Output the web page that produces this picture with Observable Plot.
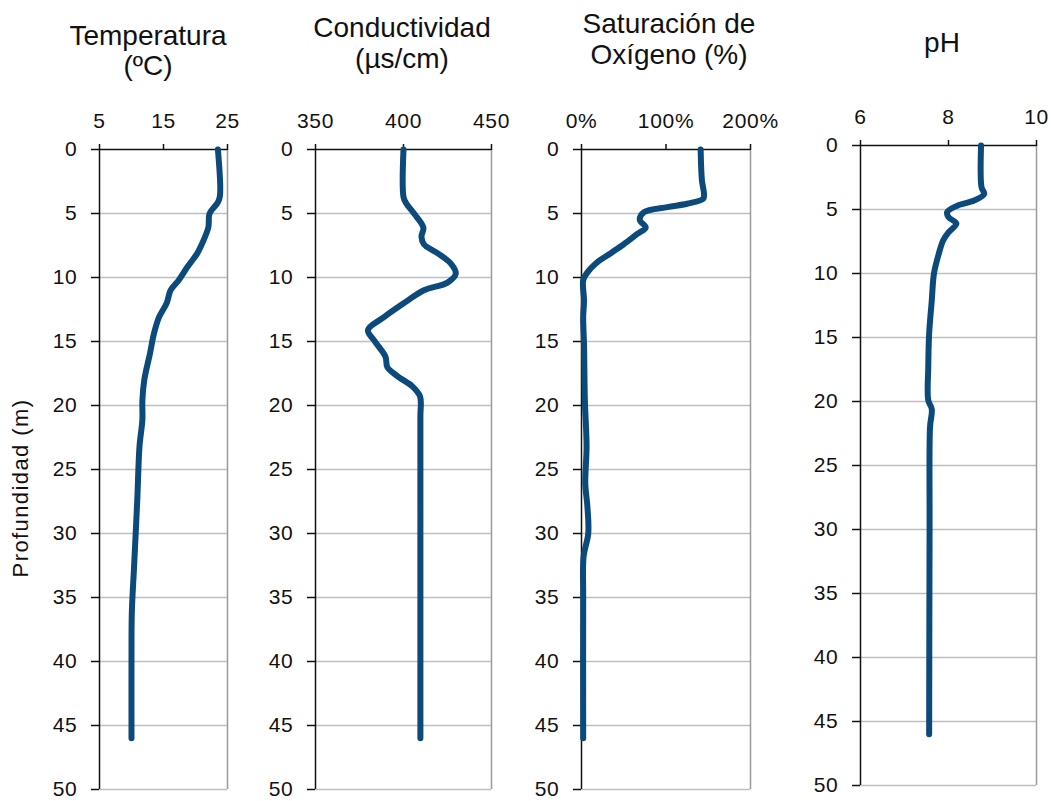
<!DOCTYPE html>
<html>
<head>
<meta charset="utf-8">
<script src="https://cdn.jsdelivr.net/npm/d3@7"></script>
<script src="https://cdn.jsdelivr.net/npm/@observablehq/plot@0.6"></script>
<style>
  html, body { margin: 0; padding: 0; background: #fff; }
  #chart { position: relative; width: 1051px; height: 801px; overflow: hidden; font-family: "Liberation Sans", Arial, sans-serif; color: #111; }
  #chart svg { position: absolute; top: 0; overflow: visible; }
  #chart svg text { font-size: 21px; letter-spacing: 0.7px; }
  .title { position: absolute; text-align: center; font-size: 28px; white-space: nowrap; transform: translateX(-50%); }
  .ylab { position: absolute; font-size: 22px; letter-spacing: 1.4px; white-space: nowrap; transform: translate(-50%, -50%) rotate(-90deg); }
</style>
</head>
<body>
<div id="chart"></div>
<script>
// ---- Data ----
const depthTicks = [0, 5, 10, 15, 20, 25, 30, 35, 40, 45, 50];

const tempDepth = [0, 3.7, 4.2, 5.0, 6.1, 7.6, 8.1, 9.2, 10.2, 11.0, 12.0, 13.1, 14.4, 15.9, 18.0, 19.6, 21.1, 23.2, 27.4, 32.6, 36.2, 40, 46];
const tempValue = [23.5, 23.8, 23.4, 22.2, 22.0, 20.8, 20.3, 18.7, 17.4, 16.1, 15.5, 14.3, 13.5, 12.9, 12.0, 11.7, 11.7, 11.25, 10.9, 10.4, 10.05, 10.0, 10.0];
const tempTicks = [5, 15, 25];

const condDepth = [0, 3.7, 4.2, 5.0, 6.1, 6.8, 7.4, 8.1, 8.9, 9.7, 10.4, 11.0, 12.0, 13.1, 14.1, 14.9, 16.2, 17.0, 17.7, 18.5, 19.3, 20.9, 30, 46];
const condValue = [400, 400, 401.5, 406, 411.3, 410.2, 411.6, 419.3, 426.8, 429.7, 425, 411.6, 400.3, 388.9, 379.8, 383.2, 389.8, 390.8, 396.5, 405, 409.4, 409.6, 409.6, 409.6];
const condTicks = [350, 400, 450];

const oxyDepth = [0, 2.4, 3.5, 3.85, 4.24, 4.5, 4.9, 5.5, 6.1, 6.6, 7.4, 8.1, 8.9, 9.6, 10.2, 11.8, 13.1, 15.3, 19.6, 23.2, 26.1, 27.9, 30.0, 31.8, 35, 46];
const oxyValue = [141, 142.5, 145, 144, 125, 101.6, 74, 69, 76, 66, 50, 34.6, 16.9, 7, 2, 3, 2, 3, 4, 6, 4.5, 7, 8, 2.5, 2, 2];
const oxyTicks = [0, 100, 200];

const phDepth = [0, 3.25, 3.8, 4.3, 4.7, 5.2, 5.6, 6.1, 6.75, 7.4, 8.45, 10.0, 12.1, 14.7, 17.3, 19.9, 20.6, 22, 30, 46];
const phValue = [8.74, 8.75, 8.81, 8.58, 8.2, 7.97, 8.0, 8.18, 8.01, 7.88, 7.78, 7.67, 7.62, 7.56, 7.54, 7.54, 7.62, 7.58, 7.57, 7.56];
const phTicks = [6, 8, 10];

const titles = ["Temperatura\n(ºC)", "Conductividad\n(µs/cm)", "Saturación de\nOxígeno (%)", "pH"];
const yLabel = "Profundidad (m)";

// ---- Layout ----
const chart = document.getElementById("chart");
const LINE = "#0b4a7b";
const FONT = "Liberation Sans, Arial, sans-serif";

const panels = [
  {depth: tempDepth, value: tempValue, ticks: tempTicks, fmt: d => d, x0: 99, x1: 227, y0: 149, y1: 789, title: titles[0], tx: 148, ty: 21, lh: 30},
  {depth: condDepth, value: condValue, ticks: condTicks, fmt: d => d, x0: 315, x1: 491, y0: 149, y1: 789, title: titles[1], tx: 402, ty: 13, lh: 30.5},
  {depth: oxyDepth, value: oxyValue, ticks: oxyTicks, fmt: d => d + "%", x0: 581, x1: 750, y0: 149, y1: 789, title: titles[2], tx: 669, ty: 7.5, lh: 31},
  {depth: phDepth, value: phValue, ticks: phTicks, fmt: d => d, x0: 860, x1: 1036, y0: 145, y1: 785, title: titles[3], tx: 942, ty: 27.5, lh: 30}
];

const ML = 75, MR = 25, H = 801;

for (const p of panels) {
  const data = p.depth.map((d, i) => ({depth: d, value: p.value[i]}));
  const xmin = p.ticks[0], xmax = p.ticks[p.ticks.length - 1];
  const plot = Plot.plot({
    width: (p.x1 - p.x0) + ML + MR,
    height: H,
    marginLeft: ML,
    marginRight: MR,
    marginTop: p.y0,
    marginBottom: H - p.y1,
    style: {fontFamily: FONT, fontSize: "21px", color: "#111", background: "transparent", overflow: "visible"},
    x: {domain: [xmin, xmax]},
    y: {domain: [0, 50], reverse: true},
    marks: [
      Plot.ruleY(depthTicks.filter(d => d > 0), {stroke: "#bfbfbf", strokeWidth: 1.5}),
      Plot.ruleX([xmax], {stroke: "#9a9a9a", strokeWidth: 1.5}),
      Plot.ruleX([xmin], {stroke: "#111", strokeWidth: 1.5}),
      Plot.ruleY([0], {stroke: "#111", strokeWidth: 1.5}),
      Plot.axisX({anchor: "top", ticks: p.ticks, tickFormat: p.fmt, tickSize: 6, tickPadding: 16, label: null, fontSize: 21, stroke: "#111", strokeWidth: 1.5}),
      Plot.axisY({anchor: "left", ticks: depthTicks, tickSize: 8, tickPadding: 14, label: null, fontSize: 21, stroke: "#111", strokeWidth: 1.5}),
      Plot.line(data, {x: "value", y: "depth", stroke: LINE, strokeWidth: 6, curve: "catmull-rom", strokeLinecap: "round", strokeLinejoin: "round"})
    ]
  });
  plot.style.left = (p.x0 - ML) + "px";
  chart.appendChild(plot);

  const t = document.createElement("div");
  t.className = "title";
  t.style.left = p.tx + "px";
  t.style.top = p.ty + "px";
  t.style.lineHeight = p.lh + "px";
  t.innerHTML = p.title.split("\n").join("<br>");
  chart.appendChild(t);
}

const yl = document.createElement("div");
yl.className = "ylab";
yl.style.left = "21px";
yl.style.top = "488px";
yl.textContent = yLabel;
chart.appendChild(yl);
</script>
</body>
</html>
